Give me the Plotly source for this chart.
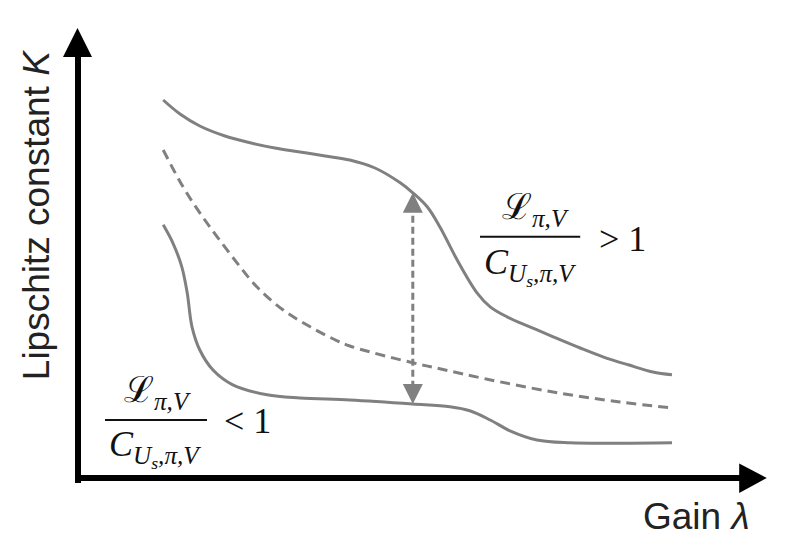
import numpy as np
import plotly.graph_objects as go

# ---- data (gain lambda vs Lipschitz constant K, arbitrary units) ----
upper_lam = [1.42, 1.70, 2.03, 2.45, 2.87, 3.28, 3.70, 4.12, 4.53, 4.95, 5.37, 5.58, 5.82, 6.03,
             6.32, 6.65, 6.87, 7.15, 7.53, 7.92, 8.37, 8.75, 9.17, 9.58, 9.90]
upper_K   = [9.45, 9.10, 8.80, 8.55, 8.38, 8.25, 8.15, 8.05, 7.95, 7.75, 7.38, 7.13, 6.78, 6.28,
             5.45, 4.63, 4.28, 4.03, 3.78, 3.53, 3.25, 3.03, 2.83, 2.65, 2.58]

mid_lam = [1.42, 1.75, 2.03, 2.32, 2.65, 2.98, 3.42, 3.87, 4.32, 4.53, 4.92, 5.58, 6.03, 6.82, 7.92, 9.03, 9.90]
mid_K   = [8.20, 7.28, 6.63, 6.03, 5.38, 4.78, 4.20, 3.78, 3.43, 3.30, 3.13, 2.88, 2.73, 2.47, 2.15, 1.90, 1.75]

lower_lam = [1.42, 1.58, 1.73, 1.82, 1.90, 2.03, 2.25, 2.58, 3.15, 3.70, 4.53, 5.58, 6.20, 6.53,
             6.87, 7.20, 7.65, 8.20, 9.03, 9.90]
lower_K   = [6.33, 5.88, 5.28, 4.63, 3.78, 3.20, 2.70, 2.33, 2.08, 2.00, 1.95, 1.85, 1.78, 1.68,
             1.45, 1.18, 0.95, 0.88, 0.87, 0.88]

arrow_lam = 5.58

x_label = "Gain <i>λ</i>"
y_label = "Lipschitz constant <i>K</i>"

GRAY = "#808080"
# the page adds an 8px body margin, so the figure is 16px smaller than the window
W, H = 781, 544
X_RANGE = [-70 / 60, (W - 70) / 60]
Y_RANGE = [(470 - H) / 40, 470 / 40]

fig = go.Figure()

fig.add_trace(go.Scatter(x=upper_lam, y=upper_K, mode="lines",
                         line=dict(color=GRAY, width=3, shape="spline", smoothing=1.0),
                         hoverinfo="skip", showlegend=False))
fig.add_trace(go.Scatter(x=mid_lam, y=mid_K, mode="lines",
                         line=dict(color=GRAY, width=3, dash="10px,6px", shape="spline", smoothing=1.0),
                         hoverinfo="skip", showlegend=False))
fig.add_trace(go.Scatter(x=lower_lam, y=lower_K, mode="lines",
                         line=dict(color=GRAY, width=3, shape="spline", smoothing=1.0),
                         hoverinfo="skip", showlegend=False))

# double-headed dashed arrow between upper and lower curves
k_top = float(np.interp(arrow_lam, upper_lam, upper_K))
k_bot = float(np.interp(arrow_lam, lower_lam, lower_K))
fig.add_trace(go.Scatter(x=[arrow_lam, arrow_lam], y=[k_top - 0.3, k_bot + 0.3], mode="lines",
                         line=dict(color=GRAY, width=3, dash="7px,4px"),
                         hoverinfo="skip", showlegend=False))
for k, ay in [(k_top, 16), (k_bot, -16)]:
    fig.add_annotation(x=arrow_lam, y=k, ax=0, ay=ay, showarrow=True, arrowhead=2,
                       arrowsize=1.6, arrowwidth=2.5, arrowcolor=GRAY, text="")

# axes with arrowheads
AX = "#000000"
shapes = [
    dict(type="line", x0=0, x1=0, y0=-0.125, y1=10.55, line=dict(color=AX, width=6)),
    dict(type="path", path="M -0.25 10.525 L 0.233 10.525 L -0.008 11.25 Z",
         fillcolor=AX, line=dict(color=AX, width=0)),
    dict(type="line", x0=-0.05, x1=11.05, y0=0, y1=0, line=dict(color=AX, width=6)),
    dict(type="path", path="M 11.02 0.36 L 11.02 -0.375 L 11.48 0 Z",
         fillcolor=AX, line=dict(color=AX, width=0)),
    # fraction bars
    dict(type="line", x0=6.7, x1=8.37, y0=6.03, y1=6.03, line=dict(color="#111", width=2)),
    dict(type="line", x0=0.45, x1=2.15, y0=1.45, y1=1.45, line=dict(color="#111", width=2)),
]
fig.update_layout(shapes=shapes)

MATH = dict(family="Liberation Serif, DejaVu Serif, serif", size=36, color="#111")
num = "ℒ<sub><i>π,V</i></sub>"
den = "<i>C</i><sub><i>U<sub>s</sub>,π,V</i></sub>"
fig.add_annotation(x=7.62, y=6.72, text=num, showarrow=False, font=MATH)
fig.add_annotation(x=7.53, y=5.3, text=den, showarrow=False, font=MATH)
fig.add_annotation(x=9.07, y=5.97, text="> 1", showarrow=False, font=MATH)
fig.add_annotation(x=1.32, y=2.15, text=num, showarrow=False, font=MATH)
fig.add_annotation(x=1.28, y=0.73, text=den, showarrow=False, font=MATH)
fig.add_annotation(x=2.82, y=1.42, text="< 1", showarrow=False, font=MATH)

LBL = dict(family="Liberation Sans, Arial, sans-serif", size=37, color="#222")
fig.add_annotation(x=10.3, y=-0.95, text=x_label, showarrow=False, font=LBL)
fig.add_annotation(x=-0.7, y=6.57, text=y_label, showarrow=False, font=LBL, textangle=-90)

fig.update_xaxes(range=X_RANGE, visible=False, domain=[0, 1])
fig.update_yaxes(range=Y_RANGE, visible=False, domain=[0, 1])
fig.update_layout(width=W, height=H, margin=dict(l=0, r=0, t=0, b=0),
                  plot_bgcolor="white", paper_bgcolor="white")

fig.write_html("out.html")
